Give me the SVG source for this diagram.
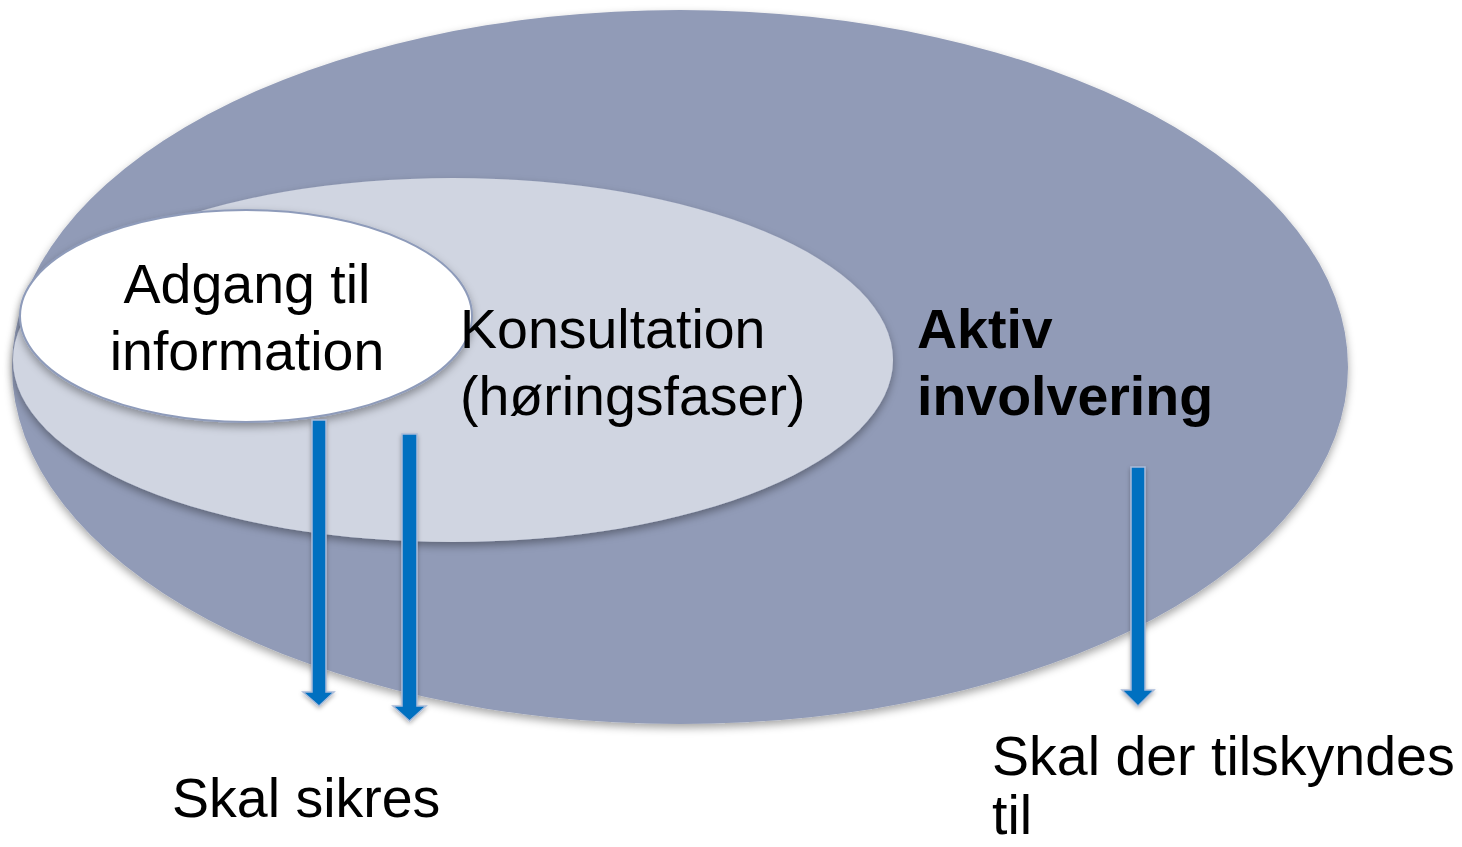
<svg xmlns="http://www.w3.org/2000/svg" width="1462" height="847" viewBox="0 0 1462 847">
<defs>
<filter id="sh" x="-10%" y="-10%" width="120%" height="125%">
<feGaussianBlur in="SourceAlpha" stdDeviation="4"/>
<feOffset dx="0" dy="4" result="b"/>
<feFlood flood-color="#000" flood-opacity="0.35"/>
<feComposite in2="b" operator="in"/>
<feMerge><feMergeNode/><feMergeNode in="SourceGraphic"/></feMerge>
</filter>
<filter id="ash" x="-60%" y="-5%" width="220%" height="110%">
<feGaussianBlur in="SourceAlpha" stdDeviation="2"/>
<feOffset dx="0" dy="2" result="b"/>
<feFlood flood-color="#000" flood-opacity="0.3"/>
<feComposite in2="b" operator="in"/>
<feMerge><feMergeNode/><feMergeNode in="SourceGraphic"/></feMerge>
</filter>
</defs>
<style>
text{font-family:"Liberation Sans",Arial,sans-serif;font-size:55.5px;fill:#000}
.b{font-weight:bold}
.arrow{fill:#0070C0;stroke:#A9BBD9;stroke-width:1.5}
</style>
<rect width="1462" height="847" fill="#fff"/>
<g id="aktiv">
<ellipse cx="680" cy="367" rx="668" ry="357" fill="#919BB7" filter="url(#sh)"/>
<text class="b" x="917" y="348">Aktiv</text>
<text class="b" x="917" y="415">involvering</text>
</g>
<g id="konsultation">
<ellipse cx="453" cy="360" rx="440" ry="182" fill="#D0D5E1" filter="url(#sh)"/>
</g>
<g id="adgang">
<ellipse cx="246" cy="316" rx="226" ry="106" fill="#fff" stroke="#8E9BBA" stroke-width="2" filter="url(#sh)"/>
<text x="247" y="303" text-anchor="middle">Adgang til</text>
<text x="247" y="370" text-anchor="middle">information</text>
</g>
<g id="konsultation-label">
<text x="460" y="348">Konsultation</text>
<text x="460" y="415">(høringsfaser)</text>
</g>
<g id="connectors" filter="url(#ash)">
<path class="arrow" d="M312,420 H326 V692 H334 L319,706 L303,692 H312 Z"/>
<path class="arrow" d="M402,434 H417 V706 H426 L409.5,721 L393,706 H402 Z"/>
<path class="arrow" d="M1131,467 H1145 V690 H1154 L1138,706 L1122,690 H1131 Z"/>
</g>
<g id="labels">
<text x="172" y="817">Skal sikres</text>
<text x="992" y="775">Skal der tilskyndes</text>
<text x="992" y="834">til</text>
</g>
</svg>
